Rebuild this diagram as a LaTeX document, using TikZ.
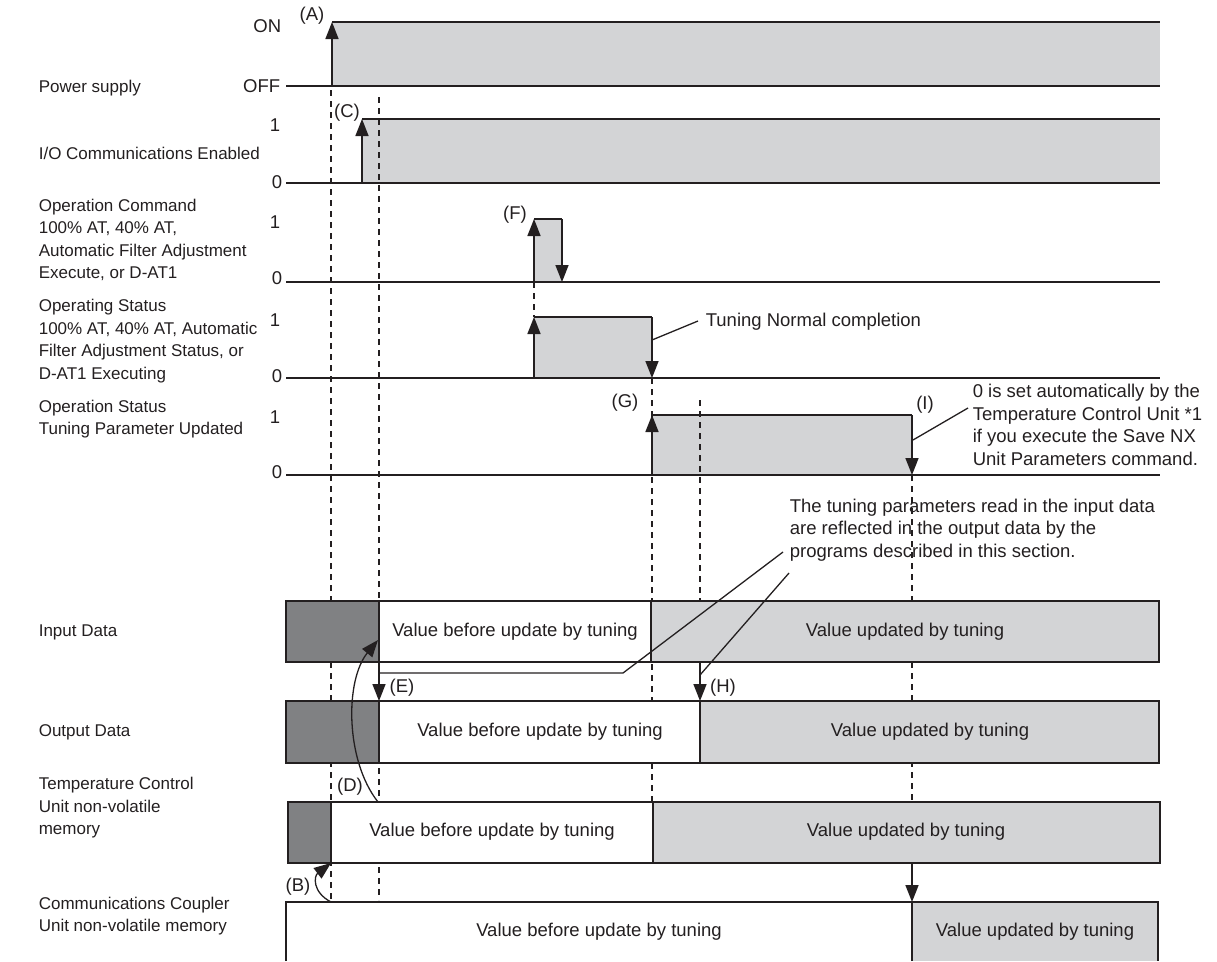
\documentclass[tikz,border=0pt]{standalone}
\usepackage{fontspec}
\setmainfont{Liberation Sans}
\usetikzlibrary{arrows.meta}
\definecolor{sigfill}{RGB}{211,212,214}
\definecolor{oldfill}{RGB}{128,129,131}
\definecolor{inkline}{RGB}{35,31,32}
\begin{document}
\begin{tikzpicture}[x=1pt,y=-1pt,>={Triangle[width=13pt,length=17pt]},
    line width=1.6pt,color=inkline,
    lbl/.style={anchor=west,align=left,inner sep=0pt,font=\fontsize{17}{22.5}\selectfont},
    txt/.style={inner sep=0pt,font=\fontsize{18.5}{22.5}\selectfont},
    note/.style={anchor=west,align=left,inner sep=0pt,font=\fontsize{18.5}{22.5}\selectfont},
    guide/.style={line width=1.5pt,dash pattern=on 6pt off 5pt},
    lead/.style={line width=1.3pt}]
  \useasboundingbox (0,0) rectangle (1217,961);
  % signal rows
  \fill[sigfill] (332,22) rectangle (1160,86);
  \draw (286,86) -- (1160,86) (332,22) -- (1160,22);
  \fill[sigfill] (362,119) rectangle (1160,183);
  \draw (286,183) -- (1160,183) (362,119) -- (1160,119);
  \fill[sigfill] (534,219) rectangle (562,282);
  \draw (286,282) -- (1160,282) (534,219) -- (562,219);
  \fill[sigfill] (534,317) rectangle (652,378);
  \draw (286,378) -- (1160,378) (534,317) -- (652,317);
  \fill[sigfill] (652,415) rectangle (912,475);
  \draw (286,475) -- (1160,475) (652,415) -- (912,415);
  % timing guides
  \draw[guide] (331,90) -- (331,902);
  \draw[guide] (379,97) -- (379,900);
  \draw[guide] (534,282) -- (534,317);
  \draw[guide] (652,378) -- (652,802);
  \draw[guide] (700,400) -- (700,663);
  \draw[guide] (912,475) -- (912,802);
  % edges
  \draw[->] (332,86) -- (332,22);
  \draw[->] (362,183) -- (362,119);
  \draw[->] (534,282) -- (534,219);
  \draw[->] (562,219) -- (562,282);
  \draw[->] (534,378) -- (534,317);
  \draw[->] (652,317) -- (652,378);
  \draw[->] (652,475) -- (652,415);
  \draw[->] (912,415) -- (912,475);
  % data blocks
  \draw[fill=oldfill] (286,601) rectangle (379,662);
  \draw[fill=white] (379,601) rectangle (651,662);
  \draw[fill=sigfill] (651,601) rectangle (1159,662);
  \draw[fill=oldfill] (286,701) rectangle (379,763);
  \draw[fill=white] (379,701) rectangle (700,763);
  \draw[fill=sigfill] (700,701) rectangle (1159,763);
  \draw[fill=oldfill] (288,802) rectangle (331,863);
  \draw[fill=white] (331,802) rectangle (653,863);
  \draw[fill=sigfill] (653,802) rectangle (1160,863);
  \draw[fill=white] (286,961) |- (912,902) -- (912,961);
  \draw[fill=sigfill] (912,961) |- (1158,902) -- (1158,961);
  % transfers
  \draw[->] (379,662) -- (379,701);
  \draw[->] (700,662) -- (700,701);
  \draw[->] (912,863) -- (912,902);
  \draw[->,lead] (378,802) .. controls (345,760) and (345,680) .. (378,640);
  \draw[->,lead] (331,902) .. controls (312,892) and (314,876) .. (331,863);
  \draw[lead] (783,552) -- (623,673) -- (379,673);
  \draw[lead] (789,573) -- (700,675);
  \draw[lead] (652,340) -- (698,321);
  \draw[lead] (913,440) -- (968,408);
  % row labels
  \node[lbl] (ps) at (38,88) {Power supply};
  \node[txt,anchor=east] (on) at (282,26) {ON};
  \node[txt,anchor=east] (off) at (281,86) {OFF};
  \node[lbl] (io) at (38,153) {I/O Communications Enabled};
  \node[txt] (io1) at (275,125) {1};
  \node[txt] (io0) at (277,182) {0};
  \node[lbl] (cmd) at (38,240) {Operation Command\\100\% AT, 40\% AT,\\Automatic Filter Adjustment\\Execute, or D-AT1};
  \node[txt] (cmd1) at (275,222) {1};
  \node[txt] (cmd0) at (277,278) {0};
  \node[lbl] (ost) at (38,341) {Operating Status\\100\% AT, 40\% AT, Automatic\\Filter Adjustment Status, or\\D-AT1 Executing};
  \node[txt] (ost1) at (275,320) {1};
  \node[txt] (ost0) at (277,376) {0};
  \node[lbl] (tpu) at (38,419) {Operation Status\\Tuning Parameter Updated};
  \node[txt] (tpu1) at (275,417) {1};
  \node[txt] (tpu0) at (277,472) {0};
  \node[lbl] (ind) at (38,632) {Input Data};
  \node[lbl] (outd) at (38,732) {Output Data};
  \node[lbl] (tcu) at (38,808) {Temperature Control\\Unit non-volatile\\memory};
  \node[lbl] (ccu) at (38,916) {Communications Coupler\\Unit non-volatile memory};
  % block texts
  \node[txt] (inold) at (515,632) {Value before update by tuning};
  \node[txt] (innew) at (905,632) {Value updated by tuning};
  \node[txt] (outold) at (540,732) {Value before update by tuning};
  \node[txt] (outnew) at (930,732) {Value updated by tuning};
  \node[txt] (tcuold) at (492,832) {Value before update by tuning};
  \node[txt] (tcunew) at (906,832) {Value updated by tuning};
  \node[txt] (ccuold) at (599,932) {Value before update by tuning};
  \node[txt] (ccunew) at (1035,932) {Value updated by tuning};
  % event marks
  \node[txt] (evA) at (312,16) {(A)};
  \node[txt] (evB) at (298,887) {(B)};
  \node[txt] (evC) at (347,113) {(C)};
  \node[txt] (evD) at (350,787) {(D)};
  \node[txt] (evE) at (402,688) {(E)};
  \node[txt] (evF) at (515,215) {(F)};
  \node[txt] (evG) at (625,403) {(G)};
  \node[txt] (evH) at (723,688) {(H)};
  \node[txt] (evI) at (925,405) {(I)};
  % notes
  \node[note] (donenote) at (705,322) {Tuning Normal completion};
  \node[note] (setnote) at (972,425) {0 is set automatically by the\\Temperature Control Unit *1\\if you execute the Save NX\\Unit Parameters command.};
  \node[note] (reflnote) at (789,530) {The tuning parameters read in the input data\\are reflected in the output data by the\\programs described in this section.};
\end{tikzpicture}
\end{document}
